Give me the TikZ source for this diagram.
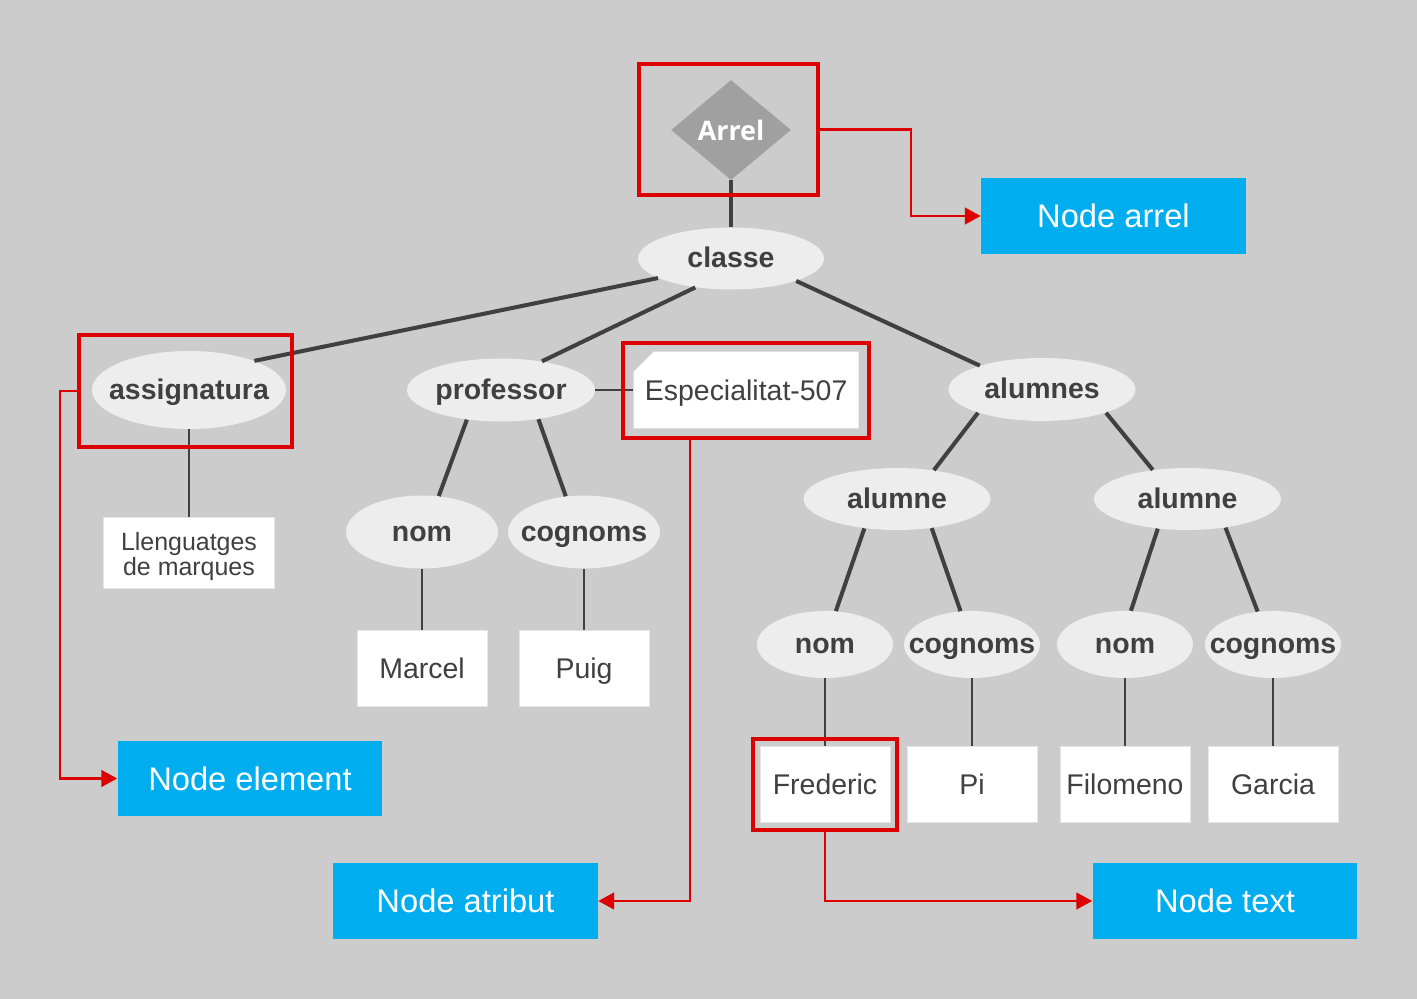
\documentclass[tikz,border=0pt]{standalone}
\usepackage{fontspec}
\setmainfont{Liberation Sans}
\newfontfamily\rootfont{Open Sans}
\usepackage{tikz}
\usetikzlibrary{shapes.geometric, shapes.misc, arrows.meta, positioning}
\definecolor{bggray}{RGB}{204,204,204}
\definecolor{nodegray}{RGB}{237,237,237}
\definecolor{rootgray}{RGB}{160,160,160}
\definecolor{textgray}{RGB}{64,64,64}
\definecolor{edgegray}{RGB}{64,64,64}
\definecolor{markred}{RGB}{221,0,0}
\definecolor{labelblue}{RGB}{0,174,239}
\newcommand{\nodelabel}[1]{\makebox[0pt]{#1}}
\tikzset{
  rootnode/.style={
    diamond, fill=rootgray, minimum width=2.4cm, minimum height=2cm,
    inner sep=0pt, text=white, font=\rootfont\bfseries\fontsize{15.3}{18}\selectfont
  },
  elemnode/.style={
    ellipse, fill=nodegray, inner sep=0pt, text=textgray,
    text height=10.8pt, text depth=0pt,
    font=\bfseries\fontsize{16.2}{19}\selectfont
  },
  leafbox/.style={
    rectangle, fill=white, draw=white!90!black, line width=0.4pt,
    minimum width=2.6cm, minimum height=1.52cm, inner sep=0pt,
    text=textgray, font=\fontsize{16.2}{19}\selectfont
  },
  textnode/.style={leafbox, text height=11.6pt, text depth=0pt},
  attrnode/.style={
    chamfered rectangle, chamfered rectangle corners=north west,
    chamfered rectangle xsep=0.22cm, chamfered rectangle ysep=0.2cm,
    fill=white, minimum width=4.5cm, minimum height=1.54cm, inner sep=0pt,
    text height=11.6pt, text depth=0pt,
    text=textgray, font=\fontsize{16.2}{19}\selectfont
  },
  labelbox/.style={
    rectangle, fill=labelblue, minimum width=5.3cm, minimum height=1.52cm,
    inner sep=0pt, text=white, text height=13.3pt, text depth=0pt,
    font=\fontsize{18.6}{22}\selectfont
  },
  markframe/.style={rectangle, draw=markred, line width=2.4pt, inner sep=0pt},
  edge/.style={draw=edgegray, line width=2.3pt},
  leafedge/.style={draw=edgegray, line width=1.1pt},
  pointer/.style={-{Triangle[length=9pt,width=9.5pt]}, draw=markred, line width=1.2pt}
}
\begin{document}
\begin{tikzpicture}[x=0.02cm, y=-0.02cm, node distance=1.2cm]
  \useasboundingbox[fill=bggray] (0,0) rectangle (1417,999);

  % Root and first level
  \node[rootnode] (arrel) at (731,130) {Arrel};
  \node[elemnode, minimum width=3.72cm, minimum height=1.24cm] (classe)
    at (731,258.5) {\nodelabel{classe}};
  \node[elemnode, minimum width=3.88cm, minimum height=1.56cm] (assig)
    at (189,390) {\nodelabel{assignatura}};
  \node[elemnode, minimum width=3.76cm, minimum height=1.26cm] (prof)
    at (501,390) {\nodelabel{professor}};
  \node[elemnode, minimum width=3.74cm, minimum height=1.26cm] (alumnes)
    at (1042,389.5) {\nodelabel{alumnes}};

  % Professor branch
  \node[attrnode, right=0.76cm of prof] (especialitat) {Especialitat-507};
  \node[elemnode, minimum width=3.04cm, minimum height=1.46cm] (nomA)
    at (422,532) {\nodelabel{nom}};
  \node[elemnode, minimum width=3.04cm, minimum height=1.46cm] (cognomsA)
    at (584,532) {\nodelabel{cognoms}};

  % Alumnes branch
  \node[elemnode, minimum width=3.74cm, minimum height=1.24cm] (alumneA)
    at (897,499) {\nodelabel{alumne}};
  \node[elemnode, minimum width=3.74cm, minimum height=1.24cm] (alumneB)
    at (1187.5,499) {\nodelabel{alumne}};
  \node[elemnode, minimum width=2.72cm, minimum height=1.34cm] (nomB)
    at (825,644.5) {\nodelabel{nom}};
  \node[elemnode, minimum width=2.72cm, minimum height=1.34cm] (cognomsB)
    at (972,644.5) {\nodelabel{cognoms}};
  \node[elemnode, minimum width=2.72cm, minimum height=1.34cm] (nomC)
    at (1125,644.5) {\nodelabel{nom}};
  \node[elemnode, minimum width=2.72cm, minimum height=1.34cm] (cognomsC)
    at (1273,644.5) {\nodelabel{cognoms}};

  % Text leaves
  \node[leafbox, below=1.76cm of assig, minimum width=3.42cm, minimum height=1.42cm,
        align=center, font=\fontsize{14.2}{14.4}\selectfont] (llenguatges)
    {\rule{0pt}{14pt}Llenguatges\\de marques};
  \node[textnode, below=1.23cm of nomA] (marcel) {Marcel};
  \node[textnode, below=1.23cm of cognomsA] (puig) {Puig};
  \node[textnode, below=1.36cm of nomB] (frederic) {Frederic};
  \node[textnode, below=1.36cm of cognomsB] (pi) {Pi};
  \node[textnode, below=1.36cm of nomC] (filomeno) {Filomeno};
  \node[textnode, below=1.36cm of cognomsC] (garcia) {Garcia};

  % Tree edges
  \draw[edge] (arrel.south) -- (classe.north);
  \draw[edge] (classe.195) -- (assig.24);
  \draw[edge] (classe.219) -- (prof.35);
  \draw[edge] (classe.341) -- (alumnes.159);
  \draw[edge] (prof.221) -- (nomA.65);
  \draw[edge] (prof.322) -- (cognomsA.117);
  \draw[edge] (alumnes.200) -- (alumneA.38);
  \draw[edge] (alumnes.340) -- (alumneB.140);
  \draw[edge] (alumneA.222) -- (nomB.72);
  \draw[edge] (alumneA.320) -- (cognomsB.109);
  \draw[edge] (alumneB.225) -- (nomC.80);
  \draw[edge] (alumneB.323) -- (cognomsC.115);
  \draw[leafedge] (prof.east) -- (especialitat.west);
  \draw[leafedge] (assig.south) -- (llenguatges.north);
  \draw[leafedge] (nomA.south) -- (marcel.north);
  \draw[leafedge] (cognomsA.south) -- (puig.north);
  \draw[leafedge] (nomB.south) -- (frederic.north);
  \draw[leafedge] (cognomsB.south) -- (pi.north);
  \draw[leafedge] (nomC.south) -- (filomeno.north);
  \draw[leafedge] (cognomsC.south) -- (garcia.north);

  % Legend boxes
  \node[labelbox] (arrellabel) at (1113.5,216) {Node arrel};
  \node[labelbox] (elemlabel) at (250,778.5) {Node element};
  \node[labelbox] (attrlabel) at (465.5,901) {Node atribut};
  \node[labelbox] (textlabel) at (1225,901) {Node text};

  % Red frames
  \node[markframe, minimum width=3.58cm, minimum height=2.62cm] (arrelframe)
    at (728.5,129.5) {};
  \node[markframe, minimum width=4.26cm, minimum height=2.24cm] (assigframe)
    at (185.5,391) {};
  \node[markframe, minimum width=4.92cm, minimum height=1.9cm] (espframe)
    at (746,390.5) {};
  \node[markframe, minimum width=2.88cm, minimum height=1.82cm] (fredframe)
    at (825,784.5) {};

  % Pointers
  \draw[pointer] (arrelframe.east) -- ++(91,0) |- (arrellabel.west);
  \draw[pointer] (assigframe.west) -- ++(-17,0) |- (elemlabel.west);
  \draw[pointer] ([xshift=-1.12cm]espframe.south) |- (attrlabel.east);
  \draw[pointer] (fredframe.south) |- (textlabel.west);
\end{tikzpicture}
\end{document}
